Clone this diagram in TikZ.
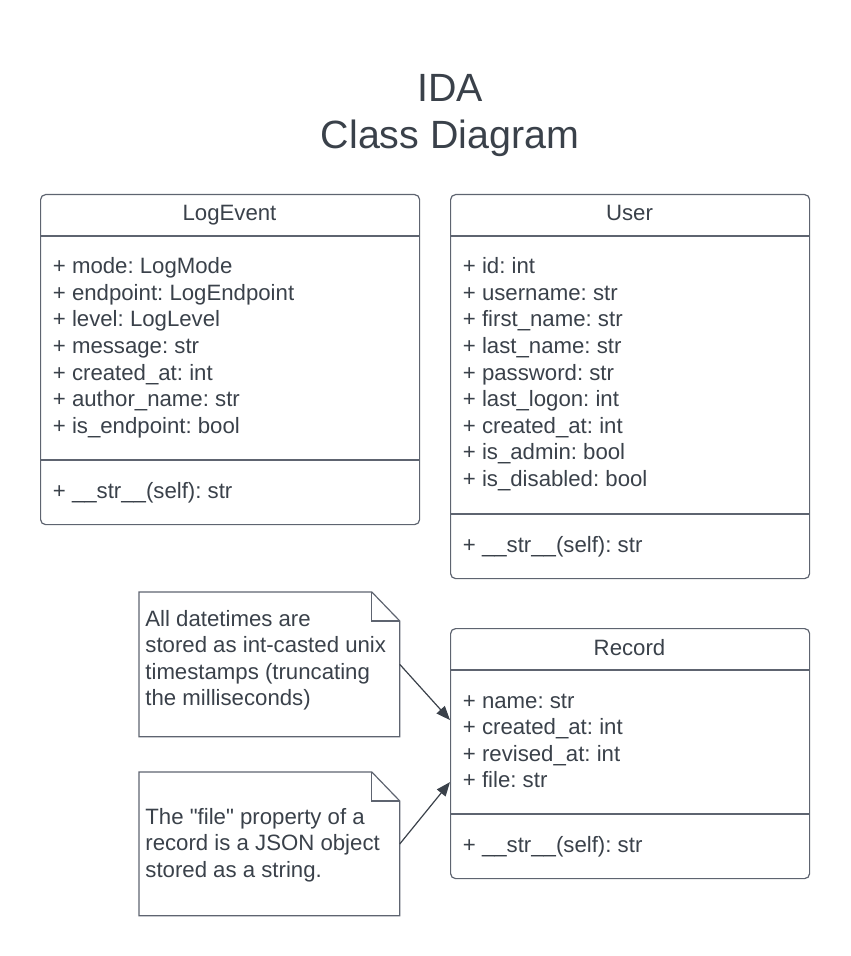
\documentclass[tikz,border=0pt]{standalone}
\usepackage{fontspec}
\setmainfont{Liberation Sans}[Ligatures=TeXOff]
\usetikzlibrary{positioning,arrows.meta,calc}
\definecolor{ink}{HTML}{3A414A}
\definecolor{edgec}{HTML}{5E6470}

\begin{document}
\begin{tikzpicture}[
    x=0.5pt, y=-0.5pt,
    classbox/.style={rectangle, draw=edgec, line width=0.6pt, rounded corners=2.5pt, anchor=north west, inner sep=0pt},
    notebox/.style={rectangle, minimum width=130pt, anchor=north west, inner sep=0pt},
    divider/.style={draw=edgec, line width=0.6pt},
    head/.style={font=\fontsize{11.1}{13}\selectfont\frenchspacing, text=ink, anchor=base, inner sep=0pt},
    attr/.style={font=\fontsize{11.1}{13}\selectfont\frenchspacing, text=ink, anchor=base west, inner sep=0pt},
    title/.style={font=\fontsize{19.7}{23}\selectfont, text=ink, anchor=base, inner sep=0pt},
    arrow/.style={-{Triangle[length=7pt,width=5.5pt]}, draw=ink, line width=0.6pt}
]
\useasboundingbox (0,0) rectangle (850,956);

\node[title] (ttl1) at (450,102) {IDA};
\node[title] (ttl2) at (450,149) {Class Diagram};

% LogEvent class
\node[classbox, minimum width=189.5pt, minimum height=165pt] (logev) at (40,194) {};
\draw[divider] ([yshift=-21pt]logev.north west) -- ([yshift=-21pt]logev.north east);
\draw[divider] ([yshift=-133pt]logev.north west) -- ([yshift=-133pt]logev.north east);
\node[head] (logevh) at (229.5,221) {LogEvent};
\foreach \txt [count=\i from 0] in {+ mode: LogMode, + endpoint: LogEndpoint, + level: LogLevel,
    + message: str, + created\_at: int, + author\_name: str, + is\_endpoint: bool}
    \node[attr] (logeva\i) at (52.5,{274+26.5*\i}) {\txt};
\node[attr] (logevm) at (52.5,498) {+ \_\_str\_\_(self): str};

% User class
\node[classbox, minimum width=179.5pt, minimum height=192pt] (user) at (450,194) {};
\draw[divider] ([yshift=-21pt]user.north west) -- ([yshift=-21pt]user.north east);
\draw[divider] ([yshift=-160pt]user.north west) -- ([yshift=-160pt]user.north east);
\node[head] (userh) at (629.5,221) {User};
\foreach \txt [count=\i from 0] in {+ id: int, + username: str, + first\_name: str, + last\_name: str,
    + password: str, + last\_logon: int, + created\_at: int, + is\_admin: bool, + is\_disabled: bool}
    \node[attr] (usera\i) at (462.5,{274+26.5*\i}) {\txt};
\node[attr] (userm) at (462.5,552) {+ \_\_str\_\_(self): str};

% Record class
\node[classbox, minimum width=179.5pt, minimum height=125pt] (rec) at (450,628) {};
\draw[divider] ([yshift=-21pt]rec.north west) -- ([yshift=-21pt]rec.north east);
\draw[divider] ([yshift=-93pt]rec.north west) -- ([yshift=-93pt]rec.north east);
\node[head] (rech) at (629.5,655) {Record};
\foreach \txt [count=\i from 0] in {+ name: str, + created\_at: int, + revised\_at: int, + file: str}
    \node[attr] (reca\i) at (462.5,{708+26.5*\i}) {\txt};
\node[attr] (recm) at (462.5,852) {+ \_\_str\_\_(self): str};

% notes
\node[notebox, minimum height=72pt] (note1) at (139,592) {};
\node[notebox, minimum height=71.5pt] (note2) at (139,772) {};
\foreach \n in {note1,note2} {
    \draw[divider] (\n.south west) -- (\n.north west) -- ([xshift=-14pt]\n.north east)
        -- ([yshift=-14.5pt]\n.north east) -- (\n.south east) -- cycle;
    \draw[divider] ([xshift=-14pt]\n.north east) |- ([yshift=-14.5pt]\n.north east);
}
\foreach \txt [count=\i from 0] in {All datetimes are, stored as int-casted unix,
    timestamps (truncating, the milliseconds)}
    \node[attr] (note1t\i) at (145,{626+26.5*\i}) {\txt};
\foreach \txt [count=\i from 0] in {The "file" property of a, record is a JSON object, stored as a string.}
    \node[attr] (note2t\i) at (145,{824+26.5*\i}) {\txt};

\coordinate (rin1) at ($(rec.north west)!0.3665!(rec.south west)$);
\coordinate (rin2) at ($(rec.north west)!0.6135!(rec.south west)$);
\draw[arrow] (note1.east) -- (rin1);
\draw[arrow] (note2.east) -- (rin2);
\end{tikzpicture}
\end{document}
